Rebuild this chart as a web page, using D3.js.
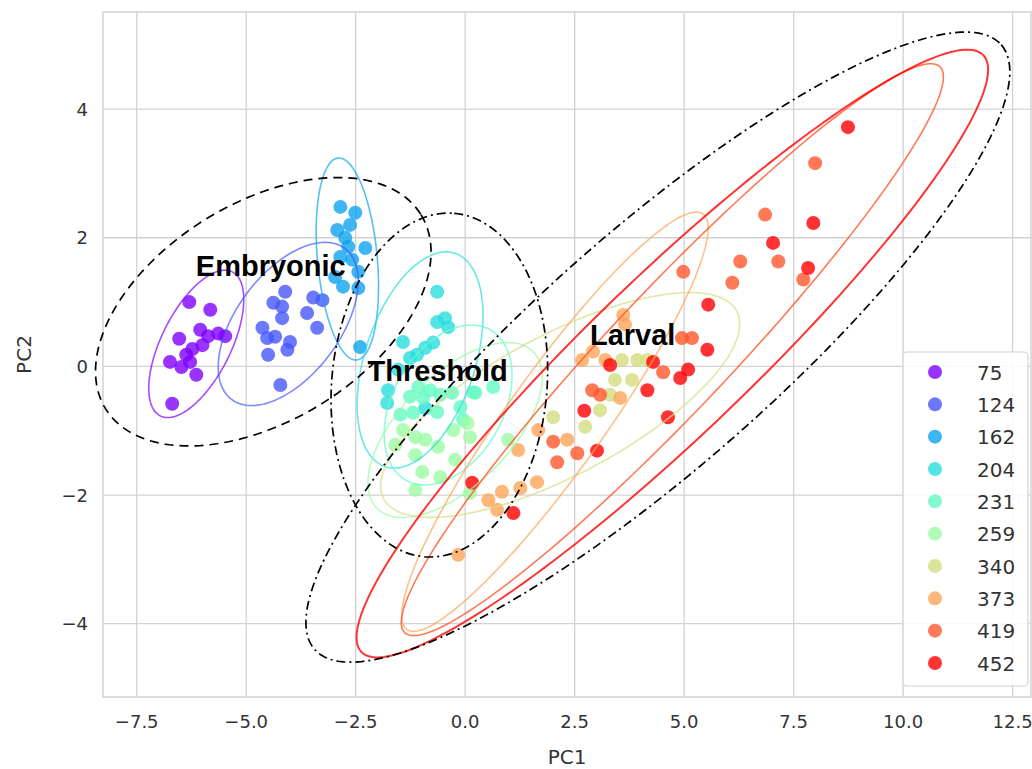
<!DOCTYPE html>
<html><head><meta charset="utf-8">
<script src="https://cdn.jsdelivr.net/npm/d3@7"></script>
<style>body{margin:0;background:#fff}svg{display:block}</style>
</head><body><svg id="chart" width="1032" height="769"></svg>
<script>
// ---------- data ----------
const stages = ["75","124","162","204","231","259","340","373","419","452"];
const stageColors = ["#8000ff","#4757fb","#0ea4f0","#2bdddd","#63fbc3","#9cfba4","#d4dd80","#ffa457","#ff572c","#ff0000"];
const xTicks = [-7.5,-5.0,-2.5,0.0,2.5,5.0,7.5,10.0,12.5];
const yTicks = [-4,-2,0,2,4];

const pts75  = [[-6.30,1.00],[-5.82,0.88],[-6.05,0.57],[-6.53,0.43],[-5.87,0.47],[-5.64,0.51],[-5.48,0.47],[-6.23,0.27],[-6.74,0.07],[-6.48,-0.01],[-6.28,0.07],[-6.14,-0.13],[-6.69,-0.58],[-6.00,0.33],[-6.37,0.18]];
const pts124 = [[-4.11,1.16],[-4.38,0.99],[-4.18,0.93],[-4.18,0.75],[-3.47,1.07],[-3.26,1.03],[-3.61,0.83],[-3.38,0.60],[-4.63,0.60],[-4.52,0.44],[-4.34,0.46],[-4.00,0.38],[-4.50,0.18],[-4.06,0.26],[-4.22,-0.29]];
const pts162 = [[-2.85,2.48],[-2.51,2.39],[-2.92,2.12],[-2.74,2.00],[-2.67,1.86],[-2.28,1.84],[-2.85,1.70],[-2.58,1.66],[-2.44,1.47],[-2.97,1.39],[-2.79,1.24],[-2.44,1.22],[-2.40,0.30],[-2.63,2.20]];
const pts204 = [[-0.64,1.16],[-0.46,0.75],[-0.39,0.61],[-0.64,0.69],[-1.42,0.38],[-0.73,0.37],[-0.91,0.29],[-1.10,0.18],[-1.26,0.13],[-1.76,-0.37],[-1.78,-0.57],[-0.91,-0.65],[-1.53,-0.05]];
const pts231 = [[-1.07,-0.32],[-0.80,-0.37],[-1.26,-0.47],[-0.96,-0.49],[-0.57,-0.44],[-0.30,-0.41],[0.23,-0.41],[0.64,-0.32],[-1.48,-0.75],[-1.19,-0.72],[-0.64,-0.71],[-0.11,-0.63],[-0.05,-0.83],[0.18,-0.40]];
const pts259 = [[-1.42,-0.99],[-1.14,-1.10],[-0.91,-1.14],[-0.27,-0.99],[0.05,-0.88],[0.11,-1.10],[-1.14,-1.38],[-0.62,-1.25],[-0.98,-1.64],[-0.57,-1.72],[-1.14,-1.92],[0.11,-1.97],[0.98,-1.14],[-1.60,-1.22],[-0.23,-1.45]];
const pts340 = [[3.58,0.10],[3.93,0.10],[3.42,-0.21],[3.81,-0.21],[3.08,-0.68],[2.74,-0.94],[2.01,-0.79],[3.31,-0.44],[4.16,0.10]];
const pts373 = [[1.67,-0.99],[1.21,-1.30],[1.64,-1.80],[1.26,-1.89],[0.84,-1.95],[0.53,-2.08],[0.73,-2.23],[-0.16,-2.93],[3.61,0.80],[3.65,0.65],[2.92,0.23],[2.67,0.10],[3.20,0.10],[3.54,-0.49],[2.33,-1.14]];
const pts419 = [[7.99,3.16],[6.85,2.36],[6.28,1.63],[7.15,1.63],[6.10,1.30],[7.72,1.35],[4.98,1.47],[4.95,0.44],[5.18,0.44],[4.52,-0.09],[2.90,-0.37],[3.08,-0.44],[2.01,-1.17],[2.10,-1.49],[2.56,-1.35]];
const pts452 = [[8.74,3.72],[7.95,2.23],[7.03,1.92],[7.83,1.53],[5.55,0.96],[5.53,0.26],[5.09,-0.05],[4.91,-0.18],[4.16,-0.37],[3.31,0.02],[4.29,0.07],[2.72,-0.69],[4.63,-0.79],[3.01,-1.31],[0.16,-1.81],[1.10,-2.28]];
const stagePoints = [pts75,pts124,pts162,pts204,pts231,pts259,pts340,pts373,pts419,pts452];

// confidence ellipses: centre, end of major semi-axis, end of minor semi-axis (PC units)
const ellCenter = [[-6.14,0.35],[-4.04,0.66],[-2.69,1.67],[-1.03,0.10],[-0.39,-0.60],[-0.23,-0.99],[2.17,-0.60],[2.05,-0.86],[4.73,0.26],[4.73,0.20]];
const ellMajor  = [[-5.32,1.47],[-2.74,1.83],[-2.90,3.24],[-0.24,1.76],[0.57,0.57],[1.55,0.23],[6.20,0.86],[5.43,2.37],[10.84,4.66],[11.83,4.84]];
const ellMinor  = [[-5.43,0.11],[-3.11,0.17],[-2.01,1.71],[0.17,-0.16],[0.71,-1.02],[0.66,-1.59],[2.92,-1.56],[2.95,-1.30],[5.72,-0.38],[5.99,-0.69]];

const phaseNames  = ["Embryonic","Threshold","Larval"];
const phaseCenter = [[-4.61,0.85],[-0.59,-0.29],[4.40,0.30]];
const phaseMajor  = [[-1.01,2.36],[-0.25,2.38],[12.24,5.00]];
const phaseMinor  = [[-3.30,-0.59],[1.86,-0.43],[6.17,-1.08]];
const phaseLabelAt = [[-6.15,1.40],[-2.23,-0.22],[2.85,0.33]];

// ---------- layout ----------
const svg = d3.select("#chart");
const L = 103, R = 1031, T = 12, B = 697;
const x = d3.scaleLinear().domain([-8.27, 12.92]).range([L, R]);
const y = d3.scaleLinear().domain([-5.14, 5.51]).range([B, T]);
const gridCol = "#d2d2d2", textCol = "#333333";
const fmtX = d3.format(".1f"), fmtY = d3.format("d");

// grid
const g = svg.append("g");
g.selectAll(".gx").data(xTicks).join("line")
  .attr("x1", d => x(d)).attr("x2", d => x(d)).attr("y1", T).attr("y2", B)
  .attr("stroke", gridCol).attr("stroke-width", 1.3);
g.selectAll(".gy").data(yTicks).join("line")
  .attr("y1", d => y(d)).attr("y2", d => y(d)).attr("x1", L).attr("x2", R)
  .attr("stroke", gridCol).attr("stroke-width", 1.3);
svg.append("rect").attr("x", L).attr("y", T).attr("width", R - L).attr("height", B - T)
  .attr("fill", "none").attr("stroke", gridCol).attr("stroke-width", 1.5);

// tick labels
svg.selectAll(".tx").data(xTicks).join("text")
  .attr("x", d => x(d)).attr("y", B + 31).attr("text-anchor", "middle")
  .attr("font-family", "DejaVu Sans").attr("font-size", 18).attr("fill", textCol)
  .text(d => fmtX(d));
svg.selectAll(".ty").data(yTicks).join("text")
  .attr("x", L - 15).attr("y", d => y(d) + 6.5).attr("text-anchor", "end")
  .attr("font-family", "DejaVu Sans").attr("font-size", 18).attr("fill", textCol)
  .text(d => fmtY(d));
svg.append("text").attr("x", (L + R) / 2).attr("y", 764).attr("text-anchor", "middle")
  .attr("font-family", "DejaVu Sans").attr("font-size", 20).attr("fill", textCol).text("PC1");
svg.append("text").attr("transform", `translate(31,${(T + B) / 2}) rotate(-90)`).attr("text-anchor", "middle")
  .attr("font-family", "DejaVu Sans").attr("font-size", 20).attr("fill", textCol).text("PC2");

// ellipse path helper (conjugate semi-axes in data space, mapped through the scales)
function ellipsePath(c, m, n) {
  const pts = d3.range(0, 361, 2).map(t => {
    const a = t * Math.PI / 180;
    const px = c[0] + (m[0] - c[0]) * Math.cos(a) + (n[0] - c[0]) * Math.sin(a);
    const py = c[1] + (m[1] - c[1]) * Math.cos(a) + (n[1] - c[1]) * Math.sin(a);
    return [x(px), y(py)];
  });
  return d3.line()(pts) + "Z";
}

// points
const plot = svg.append("g");
stagePoints.forEach((pts, i) => {
  plot.append("g").selectAll("circle").data(pts).join("circle")
    .attr("cx", d => x(d[0])).attr("cy", d => y(d[1])).attr("r", 7)
    .attr("fill", stageColors[i]).attr("fill-opacity", 0.8);
});

// group ellipses
stages.forEach((s, i) => {
  plot.append("path").attr("d", ellipsePath(ellCenter[i], ellMajor[i], ellMinor[i]))
    .attr("fill", "none").attr("stroke", stageColors[i])
    .attr("stroke-width", i === 9 ? 2 : 1.6).attr("stroke-opacity", i >= 8 ? 0.8 : 0.7);
});

// phase ellipses
const dashes = ["9,6", "9,4,2,4", "9,4,2,4"];
phaseNames.forEach((p, i) => {
  plot.append("path").attr("d", ellipsePath(phaseCenter[i], phaseMajor[i], phaseMinor[i]))
    .attr("fill", "none").attr("stroke", "#000").attr("stroke-width", 1.7)
    .attr("stroke-dasharray", dashes[i]);
});
svg.selectAll(".pl").data(phaseNames).join("text")
  .attr("x", (d, i) => x(phaseLabelAt[i][0])).attr("y", (d, i) => y(phaseLabelAt[i][1]))
  .attr("font-family", "Liberation Sans, Arial, sans-serif").attr("font-weight", "bold")
  .attr("font-size", 29).attr("fill", "#000").text(d => d);

// legend
const lg = svg.append("g");
lg.append("rect").attr("x", 903).attr("y", 352).attr("width", 125).attr("height", 334).attr("rx", 4)
  .attr("fill", "#fff").attr("fill-opacity", 0.85).attr("stroke", gridCol).attr("stroke-width", 1.2);
const ly = d3.scalePoint().domain(stages).range([372, 663]);
lg.selectAll("circle").data(stages).join("circle")
  .attr("cx", 935).attr("cy", d => ly(d)).attr("r", 7)
  .attr("fill", (d, i) => stageColors[i]).attr("fill-opacity", 0.8);
lg.selectAll("text").data(stages).join("text")
  .attr("x", 977).attr("y", d => ly(d) + 7.5)
  .attr("font-family", "DejaVu Sans").attr("font-size", 20).attr("fill", textCol).text(d => d);
</script></body></html>
